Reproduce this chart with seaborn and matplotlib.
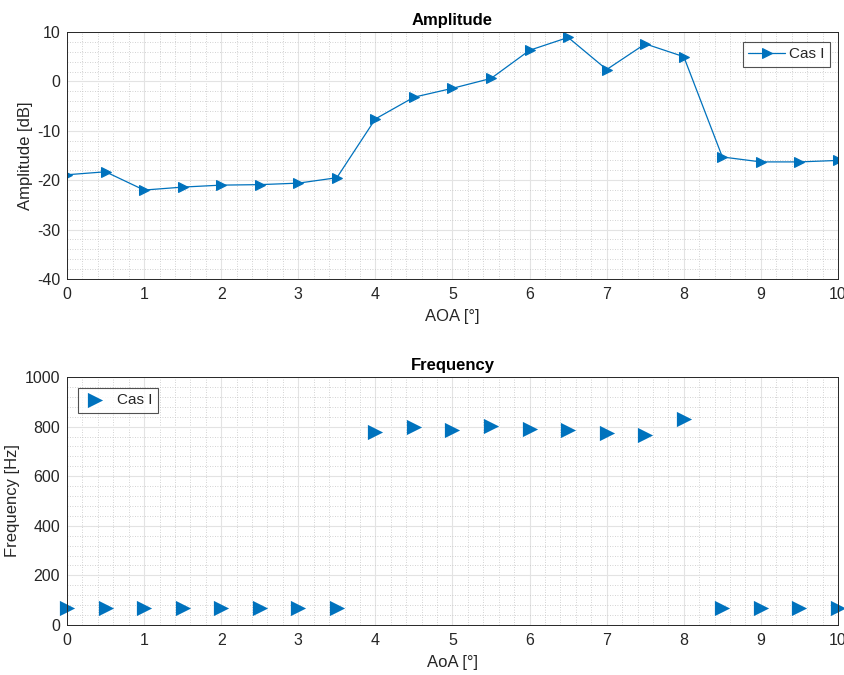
import numpy as np
import pandas as pd
import matplotlib
matplotlib.use("Agg")
import matplotlib.pyplot as plt
import seaborn as sns
from matplotlib.ticker import MultipleLocator

# --- Data ---
AOA = [0, 0.5, 1, 1.5, 2, 2.5, 3, 3.5, 4, 4.5, 5, 5.5, 6, 6.5, 7, 7.5, 8, 8.5, 9, 9.5, 10]
AMPLITUDE_DB = [-18.9, -18.3, -22.0, -21.4, -21.0, -20.9, -20.6, -19.5, -7.6, -3.2, -1.4, 0.6,
                6.3, 8.9, 2.4, 7.6, 5.0, -15.3, -16.3, -16.3, -16.0]
FREQUENCY_HZ = [70, 70, 70, 70, 70, 70, 70, 70, 780, 799, 787, 804, 792, 787, 775, 768, 831,
                70, 70, 70, 70]
SERIES = "Cas I"

BLUE = "#0072BD"
DARK = "#262626"


def matlab_axes(ax, xmaj, ymaj):
    ax.xaxis.set_major_locator(MultipleLocator(xmaj))
    ax.xaxis.set_minor_locator(MultipleLocator(xmaj / 5))
    ax.yaxis.set_major_locator(MultipleLocator(ymaj))
    ax.yaxis.set_minor_locator(MultipleLocator(ymaj / 5))
    ax.grid(which="major", color="#e3e3e3", linewidth=0.8, linestyle="-")
    ax.grid(which="minor", color="#c4c4c4", linewidth=0.6, linestyle=(0, (1, 2)))
    ax.set_axisbelow(True)
    ax.tick_params(which="major", direction="in", length=4, colors=DARK, labelsize=11.5)
    ax.tick_params(axis="x", which="major", pad=6)
    ax.tick_params(axis="y", which="major", pad=5)
    ax.tick_params(which="minor", length=0)
    for s in ax.spines.values():
        s.set_visible(True)
        s.set_color(DARK)
        s.set_linewidth(0.7)


def main():
    sns.set_theme(style="white")
    plt.rcParams["font.family"] = ["Liberation Sans", "DejaVu Sans"]
    plt.rcParams["axes.unicode_minus"] = False

    df = pd.DataFrame({"AoA": AOA, "Amplitude": AMPLITUDE_DB, "Frequency": FREQUENCY_HZ})

    fig = plt.figure(figsize=(8.45, 6.75), dpi=100)
    ax1 = fig.add_axes([0.0793, 0.5867, 0.9124, 0.3659])
    ax2 = fig.add_axes([0.0793, 0.0741, 0.9124, 0.3674])

    # --- Amplitude ---
    sns.lineplot(data=df, x="AoA", y="Amplitude", ax=ax1, color=BLUE, linewidth=0.9,
                 marker=">", markersize=7, markeredgecolor=BLUE, label=SERIES)
    ax1.set_xlim(0, 10)
    ax1.set_ylim(-40, 10)
    matlab_axes(ax1, 1, 10)
    ax1.set_title("Amplitude", fontsize=12, fontweight="bold", color="black", pad=5)
    ax1.set_xlabel("AOA [°]", fontsize=12, color=DARK, labelpad=5)
    ax1.set_ylabel("Amplitude [dB]", fontsize=12, color=DARK, labelpad=3)
    leg1 = ax1.legend(loc="upper right", bbox_to_anchor=(0.99, 0.96), fontsize=11,
                      frameon=True, fancybox=False, edgecolor=DARK, handlelength=2.4,
                      handletextpad=0.3, borderpad=0.35, borderaxespad=0)
    leg1.get_frame().set_linewidth(0.8)

    # --- Frequency ---
    sns.scatterplot(data=df, x="AoA", y="Frequency", ax=ax2, color=BLUE, marker=">",
                    s=120, edgecolor=BLUE, linewidth=0, label=SERIES, clip_on=False)
    ax2.set_xlim(0, 10)
    ax2.set_ylim(0, 1000)
    matlab_axes(ax2, 1, 200)
    ax2.set_title("Frequency", fontsize=12, fontweight="bold", color="black", pad=5)
    ax2.set_xlabel("AoA [°]", fontsize=12, color=DARK, labelpad=5)
    ax2.set_ylabel("Frequency [Hz]", fontsize=12, color=DARK, labelpad=3)
    leg2 = ax2.legend(loc="upper left", bbox_to_anchor=(0.014, 0.955), fontsize=11,
                      frameon=True, fancybox=False, edgecolor=DARK, handlelength=1.6,
                      handletextpad=0.6, borderpad=0.35, borderaxespad=0)
    leg2.get_frame().set_linewidth(0.8)

    fig.savefig("out.png", dpi=100, facecolor="white")
    plt.close(fig)


if __name__ == "__main__":
    main()
